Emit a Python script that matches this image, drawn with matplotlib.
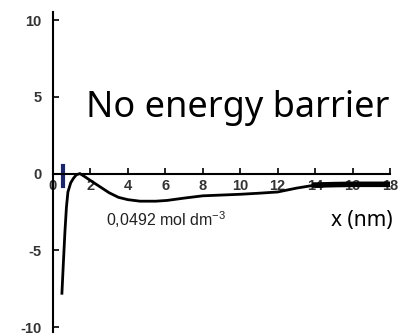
import numpy as np
import matplotlib
matplotlib.use("Agg")
import matplotlib.pyplot as plt

plt.rcParams["axes.unicode_minus"] = False
plt.rcParams["mathtext.fontset"] = "custom"
plt.rcParams["mathtext.rm"] = "Liberation Sans"

# curve (x in nm, energy)
x_nm = [0.48, 0.55, 0.64, 0.72, 0.8, 0.95, 1.1, 1.25, 1.44, 1.7, 2.0, 2.5, 3.0, 3.5, 4.0, 4.65, 5.5, 6.1, 7.0, 8.0, 9.0, 10.0, 11.0, 12.0, 13.0, 14.0, 15.0, 16.0, 17.0, 18.0]
energy = [-7.8, -6.0, -3.8, -2.2, -1.2, -0.6, -0.3, -0.08, 0.0, -0.2, -0.45, -0.85, -1.25, -1.55, -1.7, -1.8, -1.8, -1.75, -1.6, -1.45, -1.4, -1.35, -1.28, -1.2, -0.95, -0.75, -0.72, -0.7, -0.7, -0.7]
bar_x = 0.55
bar_top, bar_bottom = 0.5, -0.8

x_ticks = [0, 2, 4, 6, 8, 10, 12, 14, 16, 18]
y_ticks = [-10, -5, 0, 5, 10]

fig = plt.figure(figsize=(3.98, 3.36), dpi=100)
ax = fig.add_axes([0.133, 0.013, 0.847, 0.95])

ax.plot(x_nm, energy, color="black", lw=2)
# thicker tail at the right end
tail = [i for i, v in enumerate(x_nm) if v >= 14]
ax.plot([x_nm[i] for i in tail], [energy[i] for i in tail], color="black", lw=4)
ax.plot([bar_x, bar_x], [bar_bottom, bar_top], color="#1c2566", lw=3)

ax.set_xlim(0, 18)
ax.set_ylim(-10.3, 10.5)
ax.spines["top"].set_visible(False)
ax.spines["right"].set_visible(False)
ax.spines["bottom"].set_position(("data", 0))
ax.spines["left"].set_linewidth(1.5)
ax.spines["bottom"].set_linewidth(1.5)

ax.set_xticks(x_ticks)
ax.set_yticks(y_ticks)
ax.tick_params(axis="x", direction="in", length=4, width=1.2, pad=4,
               labelsize=10.5, labelcolor="#333333")
ax.tick_params(axis="y", direction="in", length=4, width=1.2, pad=8,
               labelsize=10.5, labelcolor="#333333")
for lab in ax.get_xticklabels() + ax.get_yticklabels():
    lab.set_fontweight("bold")
    lab.set_family("Liberation Sans")

ax.text(9.85, 3.7, "No energy barrier", fontsize=26, family="Noto Sans",
        ha="center", va="baseline")
ax.text(6.05, -3.0, "0,0492 mol dm$^{-3}$", fontsize=11.5, family="Liberation Sans",
        ha="center", va="center", color="#222222")
ax.text(16.5, -3.05, "x (nm)", fontsize=15, family="Noto Sans",
        ha="center", va="center")

fig.savefig("out.png", dpi=100)
